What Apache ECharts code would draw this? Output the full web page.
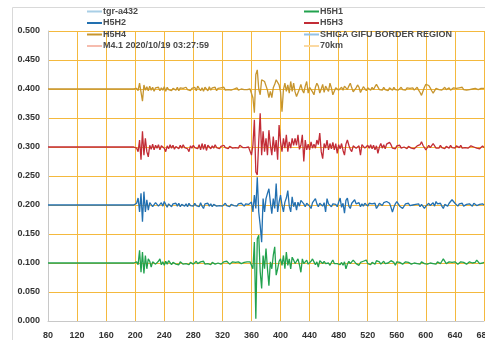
<!DOCTYPE html>
<html>
<head>
<meta charset="utf-8">
<script src="https://cdn.jsdelivr.net/npm/echarts@6/dist/echarts.min.js"></script>
<style>
  html, body { margin: 0; padding: 0; background: #fff; }
  #chart { width: 485px; height: 340px; }
</style>
</head>
<body>
<div id="chart"></div>
<script>
// sample times: flat until 198, then one sample every 2 units up to 680
const tStart = 198;
const tStep = 2;
const xTicks = [80, 120, 160, 200, 240, 280, 320, 360, 400, 440, 480, 520, 560, 600, 640, 680];

// trace offsets on the y axis
const base_h5h1 = 0.1;
const base_h5h2 = 0.2;
const base_h5h3 = 0.3;
const base_h5h4 = 0.4;

// deviations from the offset, in thousandths
const h5h4 = [
  0, 0, 1, -3, 10, 13, -21, 7, -2, 4,
  -3, 5, -2, 3, -4, 2, -1, 3, -3, 2,
  -2, 4, -4, 3, -1, 2, -3, 1, 2, -2,
  3, -3, 2, -1, 1, -2, 3, -1, 2, -3,
  1, -2, 3, -3, 5, 7, -3, 2, -4, 3,
  5, -3, 4, -2, 2, -1, 3, -3, 1, -2,
  2, -1, 3, -2, 1, -1, 2, -2, 1, 0,
  -1, 2, -2, 1, 0, 2, -1, 1, -1, 0,
  0, -3, -15, -41, 25, 33, 0, -10, 16, 19,
  13, 16, -2, -15, -4, -15, 2, 8, 16, 13,
  7, -5, -39, -1, 10, -4, 7, -7, 13, -4,
  10, -5, -13, -10, 0, 8, -2, -7, 5, 13,
  -7, 3, 5, -5, -10, 3, 10, 5, -7, 0,
  8, -6, 5, 8, -4, 10, 2, -10, -8, 2,
  5, -2, -4, 3, -2, 5, 7, -1, 5, 10,
  2, -5, -7, 2, 7, 3, -6, -3, 4, 2,
  -3, 2, 0, -2, 3, -1, 4, 8, 5, -1,
  2, -2, 3, -1, 1, -3, 2, 0, -2, 3,
  -1, 2, -2, 1, 3, -1, 1, -2, 2, 0,
  1, -1, 2, -2, 1, 3, -2, -6, -11, -4,
  3, 8, 10, 6, 2, -3, -7, -4, 1, 3,
  -1, 2, -2, 1, 3, -1, 0, 2, -2, 1,
  2, -1, 1, -2, 2, 0, 3, -1, 1, -2,
  1, -1, 2, 0, -2, 1, 2, -1, 0, 1,
  0, 1
];
const h5h3 = [
  0, 0, -2, -8, 12, -22, 27, -14, 15, -8,
  -17, 3, -4, 5, -5, 3, -2, 4, -5, 2,
  3, -2, -8, 2, -3, 4, -2, 3, -4, 1,
  2, -3, 3, -2, 4, -1, 2, -3, -8, 2,
  -2, 3, -1, 2, -3, 4, -5, 6, -4, 5,
  -6, 3, 5, -3, 2, -2, 4, -1, 2, -3,
  1, -2, 3, -1, 2, -3, 1, 2, -2, 1,
  -1, 2, -2, 3, 0, -1, 2, -1, 1, 0,
  2, -14, 3, 47, -43, -48, 10, 58, -14, 27,
  -8, 15, -14, 29, 3, -14, 18, -8, 12, -22,
  38, 9, -8, 15, -2, 21, -8, 9, -2, 15,
  3, 15, 3, 21, -4, 3, 21, -25, 12, -5,
  5, -5, 9, -2, 5, -2, 12, 4, 24, -8,
  -20, 6, -2, 12, -5, 6, -3, 8, -5, 6,
  -11, 4, -3, 6, -6, -14, 5, 12, 3, -4,
  -8, 2, 3, -2, -5, 2, -14, 4, 6, -2,
  0, 3, -2, 4, -3, 3, -5, 2, -11, 0,
  6, -2, 4, -3, 5, 2, 8, 4, -2, 1,
  -3, 2, -1, 3, -2, 1, 0, 2, -3, 1,
  3, -2, 1, -3, -5, 2, -1, 4, 9, 3,
  2, -5, -2, 3, -1, 2, 6, 3, -2, 1,
  -2, 3, -1, 2, -3, 1, 2, -2, 3, -1,
  1, -2, 2, 0, -1, 3, -2, 1, -1, 2,
  -2, 1, 2, -1, 0, 2, -2, 1, -3, 0,
  2, -1
];
const h5h2 = [
  0, 0, 3, 12, -12, 20, -29, 23, -12, 9,
  -9, 4, 6, -3, -6, 4, 6, -2, -3, 4,
  -2, 6, 3, -4, 2, 5, -3, 2, -1, 3,
  -2, 3, -3, 1, 4, -2, 2, -3, 3, -1,
  2, -2, 3, -1, 1, -3, 4, -2, -6, 2,
  -1, 3, -2, 2, -3, 1, 3, -2, 1, -1,
  2, -2, 1, 3, -1, 2, -3, 1, 2, -1,
  1, -2, 2, -1, 3, 1, -2, 2, -1, 1,
  0, 5, -12, 17, -6, 48, -12, -35, -64, 11,
  -12, 11, 20, 28, 5, -15, 11, -6, 37, -12,
  5, 17, 0, -12, 5, 12, 25, -2, -12, 14,
  -3, 5, -9, 5, -2, 8, 11, 2, -3, 3,
  5, -2, -6, 4, 7, 11, 2, -3, 3, 5,
  -2, 4, -12, 11, 2, -1, -3, 2, 5, 1,
  -3, 5, 12, -4, 3, -14, 8, 12, -2, -6,
  3, 6, 9, 2, -1, 4, -3, 2, -2, 3,
  1, -2, 3, 6, 2, -1, 3, -6, -2, 3,
  2, -1, 4, 2, 6, 9, 3, -4, -12, -4,
  2, 6, 3, -2, 1, -6, -3, 2, 0, 3,
  -1, 2, 0, 3, 1, -2, 2, -3, 1, -2,
  -6, -2, 1, 3, -1, 2, 4, -2, 6, 2,
  -1, 3, -2, -6, 1, 2, -2, 3, 5, 9,
  6, 3, 1, -2, 2, -1, 3, -2, 0, 1,
  -1, 2, 1, -2, 3, 0, -1, 2, 1, -1,
  2, 0
];
const h5h1 = [
  0, 0, 2, -3, 22, -16, 19, -18, 13, -10,
  7, 3, -7, 2, 5, -2, -4, 3, 7, -3,
  2, -4, 3, -2, 4, 2, -3, 1, 3, -2,
  1, -3, 2, 3, -2, 1, -1, 2, -3, 1,
  2, -2, 1, 3, -1, -3, 2, 0, 3, -2,
  1, -1, 2, -3, 1, 2, -2, 1, 0, 2,
  -2, 1, 2, -1, 3, 0, -2, 1, 2, -1,
  1, -2, 2, 0, -1, 2, 1, -1, 2, 0,
  2, 5, -10, 36, -96, 42, 48, -15, -44, 13,
  -10, 25, -10, -39, 2, -10, 13, 28, -21, -10,
  3, 7, -4, 13, -10, 19, -4, 7, -10, 10,
  5, -1, 3, 7, -3, -16, 7, -1, 2, 5,
  -2, -4, 3, 7, 2, -3, 2, -7, 4, 7,
  -1, 3, -1, 2, 0, -4, 1, 5, -1, 2,
  -1, 2, -3, 1, -4, 2, -10, -2, 3, -1,
  2, 5, 3, -1, 2, -4, 1, -2, 3, 1,
  5, -1, 2, -3, 1, 2, -2, 4, 7, 2,
  -2, 1, 3, -1, 2, 0, -3, 4, 7, 1,
  -4, 2, -1, 1, 3, -2, 0, 2, -1, 1,
  2, -2, 1, 0, 3, -1, 1, -2, 2, 0,
  -1, 2, -2, 1, 0, 3, -1, 1, -2, 2,
  1, -1, 3, 7, 4, -1, -4, 2, 0, 1,
  -1, 2, 0, -2, 1, 2, -1, 1, 0, -2,
  1, 2, -1, 0, 3, 1, 5, 2, -1, 1,
  0, 1
];

function trace(base, devs) {
    const pts = [[80, base]];
    devs.forEach((d, i) => pts.push([tStart + i * tStep, base + d / 1000]));
    return pts;
}

const gridColor = '#f4b93e';
const fontFam = '"Liberation Sans", Arial, sans-serif';

function blank(name, color) {
    return { name: name, type: 'line', data: [], color: color, showSymbol: false };
}

function wave(name, color, data) {
    return {
        name: name,
        type: 'line',
        data: data,
        color: color,
        showSymbol: false,
        silent: true,
        lineStyle: { width: 1.3, color: color },
        z: 3
    };
}

var legendText = { fontFamily: fontFam, fontSize: 9, color: '#4a4a4a', fontWeight: 'bold', padding: [0, 0, 0, -4] };

var chart = echarts.init(document.getElementById('chart'));
var option = {
    animation: false,
    graphic: [{
        type: 'rect',
        left: 10, top: 5,
        shape: { width: 520, height: 400 },
        style: { fill: 'none', stroke: '#d9d9d9', lineWidth: 1 },
        silent: true
    }],
    grid: { left: 48, right: 1, top: 31, bottom: 19, outerBoundsMode: 'none' },
    legend: [{
        orient: 'vertical',
        left: 87, top: 7, padding: 0,
        icon: 'rect', itemWidth: 15, itemHeight: 2, itemGap: 2.5,
        textStyle: legendText,
        data: ['tgr-a432', 'H5H2', 'H5H4', 'M4.1 2020/10/19 03:27:59']
    }, {
        orient: 'vertical',
        left: 304, top: 7, padding: 0,
        icon: 'rect', itemWidth: 15, itemHeight: 2, itemGap: 2.5,
        textStyle: legendText,
        data: ['H5H1', 'H5H3', 'SHIGA GIFU BORDER REGION', '70km']
    }],
    xAxis: {
        type: 'value',
        min: 80, max: 680, interval: 40,
        axisLine: { show: true, lineStyle: { color: '#c8c8c8' } },
        axisTick: { show: false },
        axisLabel: {
            fontFamily: fontFam, fontSize: 9, color: '#333', fontWeight: 'bold', margin: 10,
            showMaxLabel: true, hideOverlap: false
        },
        splitLine: { show: true, lineStyle: { color: gridColor, width: 1 } }
    },
    yAxis: {
        type: 'value',
        min: 0, max: 0.5, interval: 0.05,
        axisLine: { show: true, lineStyle: { color: '#c8c8c8' } },
        axisTick: { show: false },
        axisLabel: {
            fontFamily: fontFam, fontSize: 9, color: '#333', fontWeight: 'bold', margin: 8,
            formatter: v => v.toFixed(3)
        },
        splitLine: { show: true, lineStyle: { color: gridColor, width: 1 } }
    },
    series: [
        blank('tgr-a432', '#a9cfe6'),
        wave('H5H2', '#2270b0', trace(base_h5h2, h5h2)),
        wave('H5H4', '#c6952e', trace(base_h5h4, h5h4)),
        blank('M4.1 2020/10/19 03:27:59', '#f6bcae'),
        wave('H5H1', '#22a24e', trace(base_h5h1, h5h1)),
        wave('H5H3', '#c22c36', trace(base_h5h3, h5h3)),
        blank('SHIGA GIFU BORDER REGION', '#93c1e6'),
        blank('70km', '#fbd9a2')
    ]
};
chart.setOption(option);
</script>
</body>
</html>
